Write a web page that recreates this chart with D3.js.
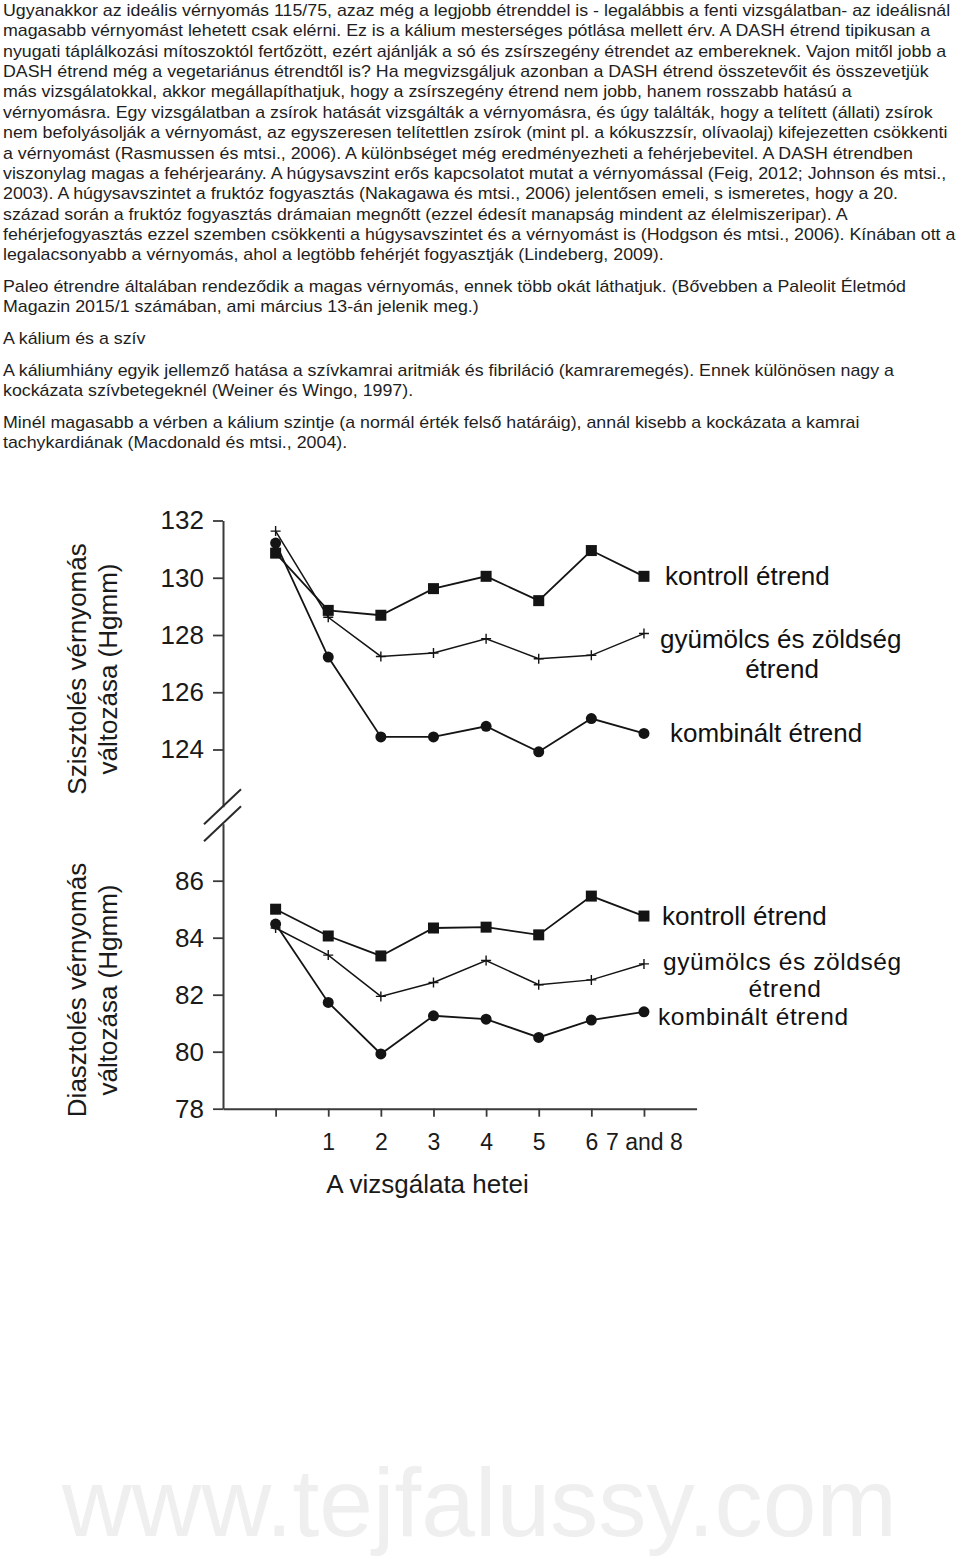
<!DOCTYPE html>
<html>
<head>
<meta charset="utf-8">
<script src="https://cdn.jsdelivr.net/npm/d3@7/dist/d3.min.js"></script>
<style>
  html, body { margin: 0; padding: 0; background: #ffffff; }
  svg { display: block; }
  text { font-family: "Liberation Sans", Arial, Helvetica, sans-serif; }
</style>
</head>
<body>
<svg id="page" width="960" height="1556"></svg>
<script>
// ---------------- DATA ----------------
const weeks = [0, 1, 2, 3, 4, 5, 6, 7];
const weekLabels = ["", "1", "2", "3", "4", "5", "6", "7 and 8"];

const sysTicks = [124, 126, 128, 130, 132];
const diaTicks = [78, 80, 82, 84, 86];

const sysControl  = [130.86, 128.86, 128.69, 129.62, 130.05, 129.20, 130.95, 130.05];
const sysFruitVeg = [131.63, 128.62, 127.25, 127.37, 127.87, 127.17, 127.29, 128.05];
const sysCombined = [131.21, 127.23, 124.44, 124.44, 124.81, 123.92, 125.08, 124.56];

const diaControl  = [85.00, 84.06, 83.36, 84.34, 84.37, 84.10, 85.46, 84.76];
const diaFruitVeg = [84.34, 83.39, 81.94, 82.43, 83.20, 82.35, 82.52, 83.08];
const diaCombined = [84.48, 81.73, 79.92, 81.26, 81.14, 80.50, 81.11, 81.40];

const seriesNames = ["kontroll étrend", "gyümölcs és zöldség", "étrend", "kombinált étrend"];
const sysAxisTitle = ["Szisztolés vérnyomás", "változása (Hgmm)"];
const diaAxisTitle = ["Diasztolés vérnyomás", "változása (Hgmm)"];
const xAxisTitle = "A vizsgálata hetei";

const paragraphs = [
  ["Ugyanakkor az ideális vérnyomás 115/75, azaz még a legjobb étrenddel is - legalábbis a fenti vizsgálatban- az ideálisnál",
   "magasabb vérnyomást lehetett csak elérni. Ez is a kálium mesterséges pótlása mellett érv. A DASH étrend tipikusan a",
   "nyugati táplálkozási mítoszoktól fertőzött, ezért ajánlják a só és zsírszegény étrendet az embereknek. Vajon mitől jobb a",
   "DASH étrend még a vegetariánus étrendtől is? Ha megvizsgáljuk azonban a DASH étrend összetevőit és összevetjük",
   "más vizsgálatokkal, akkor megállapíthatjuk, hogy a zsírszegény étrend nem jobb, hanem rosszabb hatású a",
   "vérnyomásra. Egy vizsgálatban a zsírok hatását vizsgálták a vérnyomásra, és úgy találták, hogy a telített (állati) zsírok",
   "nem befolyásolják a vérnyomást, az egyszeresen telítettlen zsírok (mint pl. a kókuszzsír, olívaolaj) kifejezetten csökkenti",
   "a vérnyomást (Rasmussen és mtsi., 2006). A különbséget még eredményezheti a fehérjebevitel. A DASH étrendben",
   "viszonylag magas a fehérjearány. A húgysavszint erős kapcsolatot mutat a vérnyomással (Feig, 2012; Johnson és mtsi.,",
   "2003). A húgysavszintet a fruktóz fogyasztás (Nakagawa és mtsi., 2006) jelentősen emeli, s ismeretes, hogy a 20.",
   "század során a fruktóz fogyasztás drámaian megnőtt (ezzel édesít manapság mindent az élelmiszeripar). A",
   "fehérjefogyasztás ezzel szemben csökkenti a húgysavszintet és a vérnyomást is (Hodgson és mtsi., 2006). Kínában ott a",
   "legalacsonyabb a vérnyomás, ahol a legtöbb fehérjét fogyasztják (Lindeberg, 2009)."],
  ["Paleo étrendre általában rendeződik a magas vérnyomás, ennek több okát láthatjuk. (Bővebben a Paleolit Életmód",
   "Magazin 2015/1 számában, ami március 13-án jelenik meg.)"],
  ["A kálium és a szív"],
  ["A káliumhiány egyik jellemző hatása a szívkamrai aritmiák és fibriláció (kamraremegés). Ennek különösen nagy a",
   "kockázata szívbetegeknél (Weiner és Wingo, 1997)."],
  ["Minél magasabb a vérben a kálium szintje (a normál érték felső határáig), annál kisebb a kockázata a kamrai",
   "tachykardiának (Macdonald és mtsi., 2004)."]
];
const watermark = "www.tejfalussy.com";

// ---------------- LAYOUT ----------------
const svg = d3.select("#page");
const ink = "#141414";

// body text (slightly wide glyphs as in the reference)
const sx = 1.085;
const textG = svg.append("g").attr("fill", "#1e1e1e").style("font-size", "16.4px")
  .attr("transform", `scale(${sx},1)`);
let baseY = 16;
paragraphs.forEach((para, pi) => {
  if (pi > 0) baseY += 11.3;
  para.forEach(line => {
    textG.append("text").attr("x", 3 / sx).attr("y", baseY).attr("xml:space", "preserve").text(line);
    baseY += 20.36;
  });
});

// scales
const x = d3.scaleLinear().domain([-1, 8]).range([223, 223 + 9 * 52.62]);
const yU = d3.scaleLinear().domain([122, 132]).range([806.75, 520.5]);
const yL = d3.scaleLinear().domain([78, 88]).range([1108.7, 823.7]);

const chart = svg.append("g");

function styleAxis(g, fs) {
  g.select(".domain").attr("stroke", "#3a3a3a").attr("stroke-width", 2);
  g.selectAll(".tick line").attr("stroke", "#3a3a3a").attr("stroke-width", 1.8);
  g.selectAll(".tick text").attr("fill", "#1a1a1a")
    .style("font-size", fs + "px").style("font-family", "'Liberation Sans', Arial, sans-serif");
}

chart.append("g").attr("transform", `translate(${x(-1)},0)`)
  .call(d3.axisLeft(yU).tickValues(sysTicks).tickSize(10).tickSizeOuter(0).tickPadding(9))
  .call(styleAxis, 26);
chart.append("g").attr("transform", `translate(${x(-1)},0)`)
  .call(d3.axisLeft(yL).tickValues(diaTicks).tickSize(10).tickSizeOuter(0).tickPadding(9))
  .call(styleAxis, 26);
chart.append("g").attr("transform", `translate(0,${yL(78)})`)
  .call(d3.axisBottom(x).tickValues(weeks).tickFormat((d, i) => weekLabels[i])
    .tickSize(8).tickSizeOuter(0).tickPadding(16.5))
  .call(styleAxis, 23);

// axis break marks
const breakYs = [yU(122), yL(88)];
chart.selectAll("line.brk").data(breakYs).join("line").attr("class", "brk")
  .attr("x1", x(-1) - 19).attr("y1", d => d + 17.5)
  .attr("x2", x(-1) + 18).attr("y2", d => d - 17.5)
  .attr("stroke", "#2a2a2a").attr("stroke-width", 2);

// axis titles
function axisTitle(lines, cy) {
  const g = chart.append("g").attr("fill", "#1a1a1a").style("font-size", "26px");
  const xs = [86, 117];
  lines.forEach((t, i) => {
    g.append("text").attr("text-anchor", "middle")
      .attr("transform", `translate(${xs[i]},${cy}) rotate(-90)`).text(t);
  });
}
axisTitle(sysAxisTitle, 669);
axisTitle(diaAxisTitle, 990);

chart.append("text").attr("x", 427.5).attr("y", 1193).attr("text-anchor", "middle")
  .attr("fill", "#1a1a1a").style("font-size", "26px").text(xAxisTitle);

// series drawing
function drawSeries(values, y, marker) {
  const pts = weeks.map((w, i) => [x(w), y(values[i])]);
  chart.append("path").datum(pts)
    .attr("d", d3.line())
    .attr("fill", "none").attr("stroke", ink).attr("stroke-width", marker === "plus" ? 1.5 : 1.8);
  const g = chart.append("g");
  if (marker === "square") {
    g.selectAll("rect").data(pts).join("rect")
      .attr("x", d => d[0] - 5.5).attr("y", d => d[1] - 5.5)
      .attr("width", 11).attr("height", 11).attr("fill", ink);
  } else if (marker === "circle") {
    g.selectAll("circle").data(pts).join("circle")
      .attr("cx", d => d[0]).attr("cy", d => d[1]).attr("r", 5.5).attr("fill", ink);
  } else {
    g.selectAll("path").data(pts).join("path")
      .attr("d", d => `M${d[0] - 5},${d[1]}H${d[0] + 5}M${d[0]},${d[1] - 5}V${d[1] + 5}`)
      .attr("stroke", ink).attr("stroke-width", 1.4);
  }
}

drawSeries(sysFruitVeg, yU, "plus");
drawSeries(sysCombined, yU, "circle");
drawSeries(sysControl, yU, "square");
drawSeries(diaFruitVeg, yL, "plus");
drawSeries(diaCombined, yL, "circle");
drawSeries(diaControl, yL, "square");

// legend labels
function legendText(t, lx, ly, anchor, fs, ls) {
  chart.append("text").attr("x", lx).attr("y", ly).attr("text-anchor", anchor || "start")
    .attr("fill", "#111").style("font-size", (fs || 26) + "px")
    .style("letter-spacing", (ls || 0) + "px").text(t);
}
legendText(seriesNames[0], 665, 585);
legendText(seriesNames[1], 660, 648);
legendText(seriesNames[2], 782, 678, "middle");
legendText(seriesNames[3], 670, 742);

legendText(seriesNames[0], 662, 925);
legendText(seriesNames[1], 663, 969.5, "start", 24.5, 0.6);
legendText(seriesNames[2], 785, 997, "middle", 24.5, 0.6);
legendText(seriesNames[3], 658, 1024.5, "start", 24.5, 0.6);

// watermark
svg.append("text").attr("x", 62).attr("y", 1536)
  .attr("fill", "#efefef").style("font-size", "96.5px").text(watermark);
</script>
</body>
</html>
